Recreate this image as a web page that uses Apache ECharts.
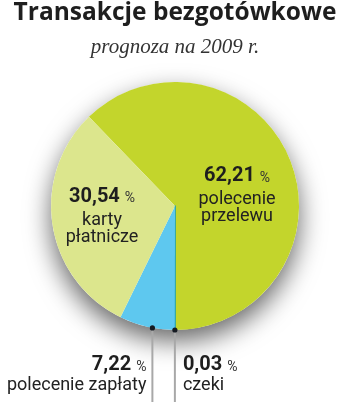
<!DOCTYPE html>
<html><head><meta charset="utf-8">
<script src="https://cdn.jsdelivr.net/npm/echarts@6/dist/echarts.min.js"></script>
<style>html,body{margin:0;padding:0;background:#fff}#c{width:350px;height:402px}</style>
</head><body><div id="c"></div>
<script>
const titleText = 'Transakcje bezgotówkowe';
const subtitleText = 'prognoza na 2009 r.';
const categories = ['polecenie\nprzelewu', 'czeki', 'polecenie zapłaty', 'karty\npłatnicze'];
const values = [62.21, 0.03, 7.22, 30.54];
const colors = ['#c3d52c', '#1a9fb3', '#5ec8ef', '#dce68d'];

const total = values.reduce((a, b) => a + b, 0);
const startAngle = -90 + 360 * values[0] / total;
const CX = 175, CY = 206, R = 124;
// label anchor inside each slice: [fraction of slice angle, fraction of radius]
const anchor = { 0: [0.452, 0.595], 1: [0.5, 1], 2: [0.4, 1], 3: [0.714, 0.608] };

const chart = echarts.init(document.getElementById('c'), null, { renderer: 'canvas' });

function slicePoint(idx, frac, rfrac) {
  const L = chart.getModel().getSeriesByIndex(1).getData().getItemLayout(idx);
  const a = L.startAngle + (L.endAngle - L.startAngle) * frac;
  return [L.cx + L.r * rfrac * Math.cos(a), L.cy + L.r * rfrac * Math.sin(a)];
}

function fmt(p) {
  const v = p.value.toFixed(2).replace('.', ',');
  const lines = p.name.split('\n').map(s => '{n|' + s + '}').join('\n');
  return '{v|' + v + '}{p|%}\n' + lines;
}

function rich(align, vLine) {
  return {
    v: { fontFamily: 'Roboto', fontWeight: 'bold', fontSize: 20, lineHeight: vLine, color: '#1e1e1e', verticalAlign: 'top', align: align },
    p: { fontFamily: 'Roboto', fontSize: 14, lineHeight: vLine, color: '#333', verticalAlign: 'top', padding: [5, 0, 0, 5], align: align },
    n: { fontFamily: 'Roboto', fontSize: 18, lineHeight: 17, color: '#222', align: align }
  };
}

const labelCfg = [
  { position: 'inside', align: 'center', rich: rich('center', 25) },
  { position: 'outside', align: 'left', rich: rich('left', 22) },
  { position: 'outside', align: 'right', rich: rich('right', 22) },
  { position: 'inside', align: 'center', rich: rich('center', 25) }
];

const data = categories.map((name, i) => ({
  name: name,
  value: values[i],
  itemStyle: i === 1 ? { color: colors[i], borderColor: colors[i], borderWidth: 1.6 } : { color: colors[i] },
  label: Object.assign({ show: true, formatter: fmt }, labelCfg[i]),
  labelLine: { show: i === 1 || i === 2, lineStyle: { color: '#a8a8a8', width: 2 } }
}));

const option = {
  backgroundColor: '#fff',
  animation: false,
  title: [
    { text: titleText, left: 'center', top: 1, padding: 0,
      textStyle: { fontFamily: 'Open Sans', fontWeight: 'bold', fontSize: 24.5, color: '#1e1e1e' } },
    { text: subtitleText, left: 'center', top: 37, padding: 0,
      textStyle: { fontFamily: 'Liberation Serif', fontStyle: 'italic', fontWeight: 'normal', fontSize: 21, color: '#333' } }
  ],
  series: [
    {
      type: 'pie', silent: true, center: [CX, CY], radius: R, z: 1,
      label: { show: false }, labelLine: { show: false },
      itemStyle: { color: '#fff', shadowBlur: 26, shadowColor: 'rgba(0,0,0,0.6)', shadowOffsetY: 11 },
      data: [{ value: 1, name: '' }]
    },
    {
      type: 'pie', silent: true, center: [CX, CY], radius: R, z: 2,
      startAngle: startAngle, clockwise: true, avoidLabelOverlap: false,
      data: data,
      labelLayout: function (params) {
        const i = params.dataIndex;
        const an = anchor[i];
        const p = slicePoint(i, an[0], an[1]);
        if (i === 0 || i === 3) {
          return { x: p[0], y: p[1], align: 'center', verticalAlign: 'top' };
        }
        const x = p[0];
        const bottom = chart.getHeight();
        return {
          x: i === 2 ? x - 6 : x + 8,
          y: CY + R + 25,
          align: i === 2 ? 'right' : 'left',
          verticalAlign: 'top',
          labelLinePoints: [[x, p[1]], [x, bottom], [x, bottom]]
        };
      }
    }
  ]
};

chart.setOption(option);

const dots = [1, 2].map(i => {
  const p = slicePoint(i, anchor[i][0], anchor[i][1]);
  return { type: 'circle', shape: { cx: p[0], cy: p[1], r: 2.6 }, style: { fill: '#151a22' }, z: 100 };
});
chart.setOption({ graphic: dots });
</script>
</body></html>
